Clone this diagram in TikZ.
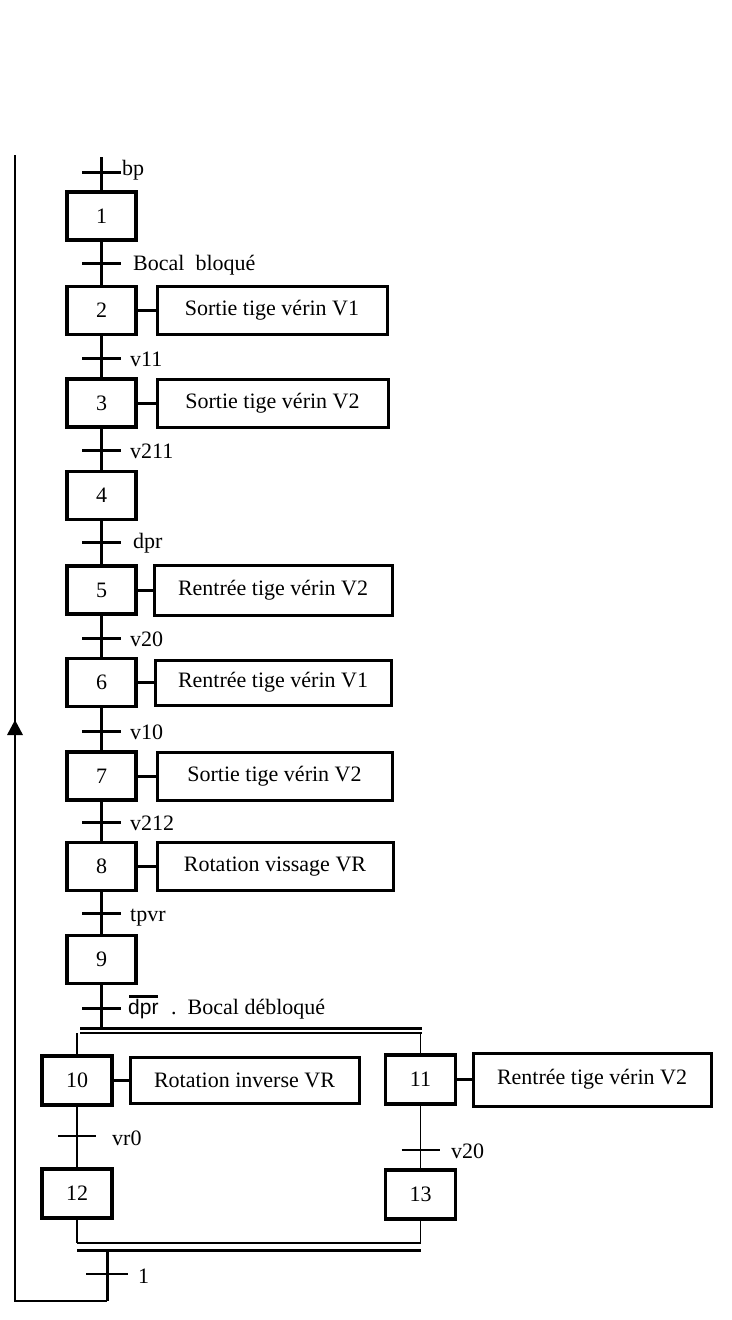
\documentclass[tikz,border=0pt]{standalone}
\usepackage{fontspec}
\setmainfont{Liberation Serif}
\setsansfont{Liberation Sans}
\usetikzlibrary{calc}
\newcommand\gfs{\fontsize{22}{26}\selectfont}
\begin{document}
\begin{tikzpicture}[x=1pt,y=-1pt,
  stepbox/.style={draw,line width=3.2pt,minimum width=69pt,minimum height=48pt,inner sep=0pt,font=\gfs},
  actbox/.style={draw,line width=3pt,minimum height=48pt,inner sep=0pt,font=\gfs},
  lbl/.style={anchor=west,inner sep=0pt,font=\gfs},
  mainl/.style={line width=3pt},
  barl/.style={line width=3pt},
  thinl/.style={line width=1.6pt},
  conn/.style={line width=3pt},
]
\useasboundingbox (0,0) rectangle (731,1320);

% steps of the main sequence
\node[stepbox] (s1) at (101.5,216) {1};
\node[stepbox] (s2) at (101.5,310.5) {2};
\node[stepbox] (s3) at (101.5,403) {3};
\node[stepbox] (s4) at (101.5,495.5) {4};
\node[stepbox] (s5) at (101.5,590) {5};
\node[stepbox] (s6) at (101.5,682.5) {6};
\node[stepbox] (s7) at (101.5,776) {7};
\node[stepbox] (s8) at (101.5,866.5) {8};
\node[stepbox] (s9) at (101.5,959.5) {9};

% actions
\node[actbox,minimum width=230pt] (a2) at (272,310.5) {Sortie tige vérin V1};
\node[actbox,minimum width=231pt] (a3) at (272.5,403) {Sortie tige vérin V2};
\node[actbox,minimum width=238pt,minimum height=50pt] (a5) at (273,590) {Rentrée tige vérin V2};
\node[actbox,minimum width=236pt,minimum height=45pt] (a6) at (273,682.5) {Rentrée tige vérin V1};
\node[actbox,minimum width=235pt] (a7) at (274.5,776) {Sortie tige vérin V2};
\node[actbox,minimum width=236pt] (a8) at (275,866.5) {Rotation vissage VR};

\foreach \i in {2,3,5,6,7,8} \draw[conn] (s\i.east) -- (s\i.east -| a\i.west);

% main line
\coordinate (top) at (101.5,157);
\coordinate (d1) at (101.5,1030);
\draw[mainl] (top) -- (s1.north);
\foreach \i/\j in {1/2,2/3,3/4,4/5,5/6,6/7,7/8,8/9} \draw[mainl] (s\i.south) -- (s\j.north);
\draw[mainl] (s9.south) -- (d1);

% transitions
\foreach \n/\y in {t0/172,t1/263,t2/358,t3/450,t4/542,t5/638,t6/731,t7/822,t8/913,t9/1008}
  \coordinate (\n) at (101.5,\y);
\foreach \n in {t0,t1,t2,t3,t4,t5,t6,t7,t8,t9}
  \draw[barl] ($(\n)+(-19.5,0)$) -- ($(\n)+(19.5,0)$);

\node[lbl] (l0) at (122,170) {bp};
\node[lbl] (l1) at (133,265) {Bocal\hspace{0.5em}bloqué};
\node[lbl] (l2) at (130,359) {v11};
\node[lbl] (l3) at (130,451) {v211};
\node[lbl] (l4) at (133,543) {dpr};
\node[lbl] (l5) at (130,639) {v20};
\node[lbl] (l6) at (130,732) {v10};
\node[lbl] (l7) at (130,823) {v212};
\node[lbl] (l8) at (130,918) {tpvr};
\node[lbl,font=\sffamily\fontsize{21}{25}\selectfont] (l9a) at (128,1009) {dpr};
\node[lbl] (l9b) at (171,1009) {.\hspace{11pt}Bocal débloqué};
\draw[line width=3pt] ($(l9a.north west)+(1,-3)$) -- ($(l9a.north east)+(-1,-3)$);

% simultaneous divergence
\coordinate (dl) at (80,1028); \coordinate (dr) at (422,1028);
\coordinate (dl2) at (80,1033); \coordinate (dr2) at (422,1033);
\draw[line width=3pt] (dl) -- (dr);
\draw[line width=1.6pt] (dl2) -- (dr2);

\node[stepbox,minimum width=70pt,minimum height=49pt] (s10) at (77,1080.5) {10};
\node[stepbox,minimum width=70pt,minimum height=49pt] (s12) at (77,1193.5) {12};
\node[stepbox,minimum width=70pt,minimum height=49pt] (s11) at (420.5,1079.5) {11};
\node[stepbox,minimum width=70pt,minimum height=49pt] (s13) at (420.5,1194.5) {13};
\node[actbox,minimum width=229pt,minimum height=46pt] (a10) at (244.5,1080.5) {Rotation inverse VR};
\node[actbox,minimum width=238pt,minimum height=53pt] (a11) at (592,1079.5) {Rentrée tige vérin V2};
\draw[conn] (s10.east) -- (s10.east -| a10.west);
\draw[conn] (s11.east) -- (s11.east -| a11.west);

\coordinate (b10) at (77,1033); \coordinate (b11) at (420.5,1033);
\coordinate (c12) at (77,1243); \coordinate (c13) at (420.5,1243);
\draw[thinl] (b10) -- (s10.north);
\draw[thinl] (b11) -- (s11.north);
\draw[thinl] (s10.south) -- (s12.north);
\draw[thinl] (s11.south) -- (s13.north);
\draw[thinl] (s12.south) -- (c12);
\draw[thinl] (s13.south) -- (c13);

\coordinate (t10) at (77,1136); \coordinate (t11) at (420.5,1150);
\draw[thinl] ($(t10)+(-19,0)$) -- ($(t10)+(19,0)$);
\draw[thinl] ($(t11)+(-19,0)$) -- ($(t11)+(19,0)$);
\node[lbl] (l10) at (112,1138) {vr0};
\node[lbl] (l11) at (451,1151) {v20};

% simultaneous convergence
\draw[thinl] (c12) -- (c13);
\coordinate (gl) at (77,1250); \coordinate (gr) at (421,1250);
\draw[line width=3pt] (gl) -- (gr);

% final transition and return
\coordinate (e1) at (107,1250);
\coordinate (e2) at (107,1301);
\coordinate (e3) at (15,1301);
\coordinate (e4) at (15,155);
\coordinate (t12) at (107,1274);
\draw[mainl] (e1) -- (e2);
\draw[line width=2.6pt] ($(t12)+(-21,0)$) -- ($(t12)+(21,0)$);
\node[lbl] (l12) at (138,1276) {1};
\draw[line width=2pt] (e2) -- (e3) -- (e4);
\fill (15,720) -- (7,735) -- (23,735) -- cycle;
\end{tikzpicture}
\end{document}
